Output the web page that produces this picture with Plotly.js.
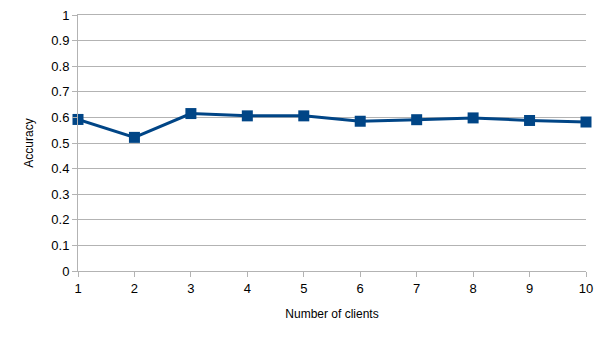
<!DOCTYPE html>
<html>
<head>
<meta charset="utf-8">
<script src="https://cdn.plot.ly/plotly-3.0.1.min.js"></script>
<style>
  html, body { margin: 0; padding: 0; background: #fff; }
  #chart { width: 605px; height: 340px; }
</style>
</head>
<body>
<div id="chart"></div>
<script>
// Accuracy per number of clients
const clients = [1, 2, 3, 4, 5, 6, 7, 8, 9, 10];
const accuracy = [0.592, 0.522, 0.615, 0.606, 0.606, 0.585, 0.591, 0.598, 0.588, 0.582];

const yTicks = [0, 0.1, 0.2, 0.3, 0.4, 0.5, 0.6, 0.7, 0.8, 0.9, 1];

const trace = {
  x: clients,
  y: accuracy,
  type: 'scatter',
  mode: 'lines+markers',
  line: { color: '#004586', width: 3 },
  marker: { color: '#004586', symbol: 'square', size: 11 },
  cliponaxis: false,
  showlegend: false
};

const layout = {
  width: 605,
  height: 340,
  margin: { l: 78, r: 19, t: 15, b: 69 },
  paper_bgcolor: '#ffffff',
  plot_bgcolor: '#ffffff',
  font: { family: 'Liberation Sans, Arial, sans-serif', color: '#000', size: 13 },
  xaxis: {
    range: [1, 10],
    tickvals: clients,
    ticktext: clients.map(String),
    showgrid: false,
    zeroline: false,
    showline: true,
    linecolor: '#b3b3b3',
    linewidth: 1,
    mirror: true,
    ticks: 'outside',
    ticklen: 5,
    tickcolor: '#b3b3b3',
    tickfont: { size: 13 },
    title: { text: 'Number of clients', font: { size: 12 }, standoff: 15 }
  },
  yaxis: {
    range: [0, 1],
    tickvals: yTicks,
    ticktext: yTicks.map(String),
    showgrid: true,
    gridcolor: '#b3b3b3',
    gridwidth: 1,
    zeroline: false,
    showline: true,
    linecolor: '#b3b3b3',
    ticks: 'outside',
    ticklen: 5,
    tickcolor: '#b3b3b3',
    tickfont: { size: 13 },
    title: { text: 'Accuracy', font: { size: 12 }, standoff: 15 }
  }
};

Plotly.newPlot('chart', [trace], layout, { displayModeBar: false, staticPlot: true });
</script>
</body>
</html>
